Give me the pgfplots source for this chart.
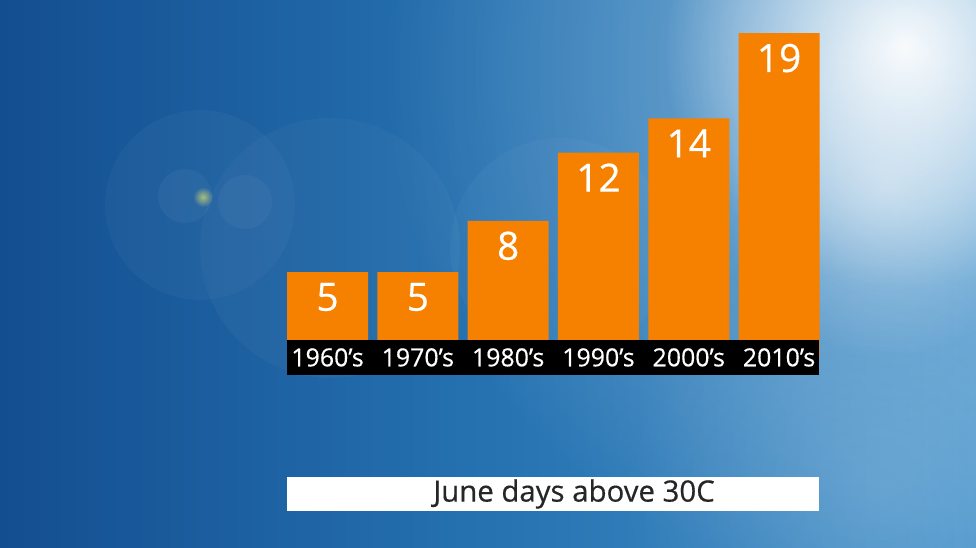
\documentclass[border=0pt]{standalone}
\usepackage{pgfplots}
\pgfplotsset{compat=1.18}
\usepackage{fontspec}
\setmainfont{Open Sans}
\newfontfamily\medfont[FakeBold=0.5]{Open Sans}
\usetikzlibrary{fadings}
\definecolor{barorange}{HTML}{F68000}
\definecolor{bgleft}{HTML}{134E90}
\definecolor{bgmid}{HTML}{2672B1}
\definecolor{bgright}{HTML}{4693CB}
\definecolor{titletext}{HTML}{262626}
\tikzfading[name=glow, inner color=transparent!0, outer color=transparent!100]
\begin{document}
\begin{tikzpicture}
\useasboundingbox (0,0) rectangle (976bp,548bp);
% background
\shade[left color=bgleft, right color=bgright, middle color=bgmid] (0,0) rectangle (976bp,548bp);
\begin{scope}
\clip (0,0) rectangle (976bp,548bp);
\fill[white, opacity=0.35, path fading=glow] (900bp,480bp) circle (520bp);
\fill[white, opacity=0.95, path fading=glow] (905bp,500bp) circle (240bp);
\fill[white, opacity=0.4, path fading=glow] (885bp,360bp) circle (170bp);
\fill[white, opacity=0.15, path fading=glow] (880bp,60bp) circle (260bp);
% faint lens flare
\fill[white, opacity=0.03] (200bp,343bp) circle (95bp);
\fill[white, opacity=0.03] (330bp,300bp) circle (130bp);
\fill[white, opacity=0.03] (560bp,300bp) circle (110bp);
\fill[white, opacity=0.04] (185bp,352bp) circle (27bp);
\fill[white, opacity=0.04] (245bp,346bp) circle (27bp);
\fill[yellow!60!white, opacity=0.6, path fading=glow] (203bp,351bp) circle (10bp);
\end{scope}
\begin{axis}[
  scale only axis,
  width=976bp, height=548bp,
  xmin=-3.627, xmax=7.181,
  ymin=-11.166, ymax=20.937,
  hide axis,
  clip=false,
  /pgf/number format/assume math mode=true,
]
\addplot[ybar, bar width=81bp, fill=barorange, draw=none,
  nodes near coords,
  every node near coord/.style={anchor=center, yshift=-25bp, text=white,
    font=\medfont\fontsize{39}{39}\selectfont}]
  coordinates {(0,5) (1,5) (2,8) (3,12) (4,14) (5,19)};
\fill[black] (axis cs:-0.449,1.02) rectangle (axis cs:5.443,-1.03);
\addplot[draw=none, mark=none, nodes near coords, point meta=explicit symbolic,
  every node near coord/.style={anchor=center, text=white,
    font=\medfont\fontsize{25}{25}\selectfont}]
  coordinates {(0,0) [1960’s] (1,0) [1970’s] (2,0) [1980’s] (3,0) [1990’s] (4,0) [2000’s] (5,0) [2010’s]};
\fill[white] (axis cs:-0.449,-7.0) rectangle (axis cs:5.443,-9.0);
\node[text=titletext, font=\medfont\fontsize{29.5}{29.5}\selectfont, anchor=center] at (axis cs:2.73,-8.0) {June days above 30C};
\end{axis}
\end{tikzpicture}
\end{document}
